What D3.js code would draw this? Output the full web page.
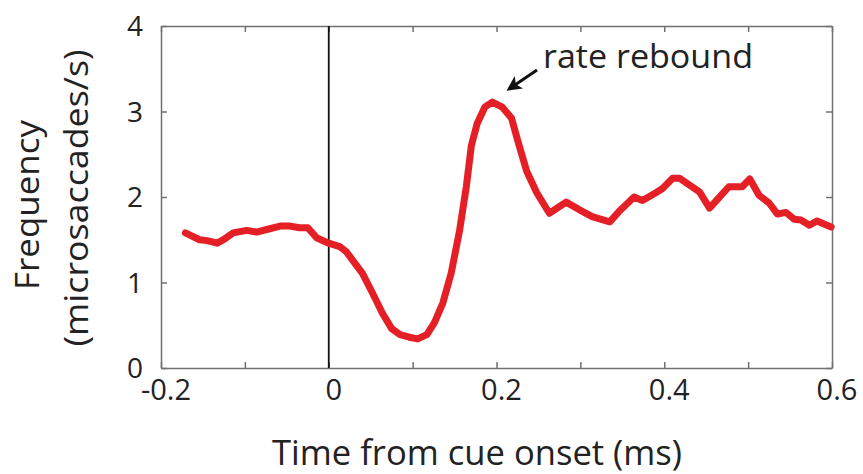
<!DOCTYPE html>
<html><head><meta charset="utf-8">
<script src="https://cdn.jsdelivr.net/npm/d3@7"></script>
<style>body{margin:0;background:#fff}svg{display:block}text{font-family:"Open Sans",sans-serif;fill:#222}</style>
</head><body><svg id="c" width="863" height="474"></svg>
<script>
const times = [-0.171,-0.154,-0.145,-0.133,-0.124,-0.114,-0.098,-0.086,-0.074,-0.058,-0.046,-0.035,-0.025,-0.014,0,0.013,0.021,0.033,0.040,0.052,0.064,0.075,0.085,0.096,0.106,0.117,0.126,0.136,0.146,0.156,0.164,0.170,0.177,0.186,0.195,0.207,0.218,0.225,0.236,0.248,0.263,0.283,0.299,0.314,0.335,0.346,0.364,0.374,0.390,0.398,0.410,0.418,0.442,0.454,0.465,0.477,0.493,0.502,0.513,0.525,0.535,0.545,0.555,0.563,0.573,0.582,0.599];
const rates = [1.58,1.50,1.49,1.46,1.51,1.58,1.61,1.59,1.62,1.66,1.66,1.64,1.64,1.52,1.46,1.42,1.36,1.20,1.11,0.88,0.64,0.46,0.39,0.36,0.34,0.39,0.53,0.76,1.11,1.61,2.12,2.60,2.86,3.05,3.11,3.05,2.92,2.67,2.30,2.05,1.81,1.94,1.85,1.77,1.71,1.83,2.00,1.96,2.05,2.10,2.22,2.22,2.06,1.87,1.99,2.12,2.12,2.21,2.02,1.93,1.80,1.82,1.74,1.73,1.67,1.72,1.65];
const xTickLabels = ["-0.2","0","0.2","0.4","0.6"];
const xTickValues = [-0.2,0,0.2,0.4,0.6];
const xMinorTicks = [-0.2,-0.1,0,0.1,0.2,0.3,0.4,0.5,0.6];
const yTickLabels = ["0","1","2","3","4"];
const yTickValues = [0,1,2,3,4];
const xTitle = "Time from cue onset (ms)";
const yTitle1 = "Frequency";
const yTitle2 = "(microsaccades/s)";
const annotation = "rate rebound";

const svg = d3.select("#c");
const L=161,R=832,T=26,B=368;
const x = d3.scaleLinear().domain([-0.2,0.6]).range([L,R]);
const y = d3.scaleLinear().domain([0,4]).range([B,T]);

const axB = svg.append("g").attr("transform",`translate(0,${B})`)
  .call(d3.axisBottom(x).tickValues(xMinorTicks).tickSizeInner(-6).tickSizeOuter(0).tickFormat(""));
const axT = svg.append("g").attr("transform",`translate(0,${T})`)
  .call(d3.axisTop(x).tickValues(xMinorTicks).tickSizeInner(-6).tickSizeOuter(0).tickFormat(""));
const axL = svg.append("g").attr("transform",`translate(${L},0)`)
  .call(d3.axisLeft(y).tickValues(yTickValues).tickSizeInner(-6).tickSizeOuter(0).tickFormat(""));
const axR = svg.append("g").attr("transform",`translate(${R},0)`)
  .call(d3.axisRight(y).tickValues(yTickValues).tickSizeInner(-6).tickSizeOuter(0).tickFormat(""));
[axB,axT,axL,axR].forEach(g=>{g.selectAll("path,line").attr("stroke","#707070").attr("stroke-width",1.5);});

// tick labels
svg.append("g").selectAll("text").data(xTickValues).join("text")
  .attr("x",d=>x(d)+5).attr("y",B+32).attr("text-anchor","middle")
  .attr("font-size",29).text((d,i)=>xTickLabels[i]);
svg.append("g").selectAll("text").data(yTickValues).join("text")
  .attr("x",L-18).attr("y",d=>y(d)+10).attr("text-anchor","end")
  .attr("font-size",28).text((d,i)=>yTickLabels[i]);

// vertical line at 0
svg.append("line").attr("x1",x(0)).attr("x2",x(0)).attr("y1",T).attr("y2",B)
  .attr("stroke","#111").attr("stroke-width",1.8);

// data line
svg.append("path").datum(times.map((t,i)=>[t,rates[i]]))
  .attr("fill","none").attr("stroke","#e41f26").attr("stroke-width",7)
  .attr("stroke-linejoin","round").attr("stroke-linecap","round")
  .attr("d",d3.line().x(d=>x(d[0])).y(d=>y(d[1])));

// annotation
svg.append("text").attr("x",543).attr("y",68).attr("font-size",33)
  .attr("textLength",210).attr("lengthAdjust","spacingAndGlyphs").text(annotation);
const defs = svg.append("defs");
defs.append("marker").attr("id","ah").attr("viewBox","0 0 10 10").attr("refX",8).attr("refY",5)
  .attr("markerWidth",5).attr("markerHeight",5).attr("orient","auto")
  .append("path").attr("d","M0,0L10,5L0,10L2.5,5z").attr("fill","#111");
svg.append("line").attr("x1",537).attr("y1",70).attr("x2",509).attr("y2",89)
  .attr("stroke","#111").attr("stroke-width",3).attr("marker-end","url(#ah)");

// axis titles
svg.append("text").attr("x",477).attr("y",465).attr("text-anchor","middle").attr("font-size",34)
  .attr("textLength",410).attr("lengthAdjust","spacingAndGlyphs").text(xTitle);
svg.append("text").attr("transform","translate(39,205) rotate(-90)").attr("text-anchor","middle").attr("font-size",33)
  .attr("textLength",170).attr("lengthAdjust","spacingAndGlyphs").text(yTitle1);
svg.append("text").attr("transform","translate(88,198) rotate(-90)").attr("text-anchor","middle").attr("font-size",33)
  .attr("textLength",297).attr("lengthAdjust","spacingAndGlyphs").text(yTitle2);
</script></body></html>
